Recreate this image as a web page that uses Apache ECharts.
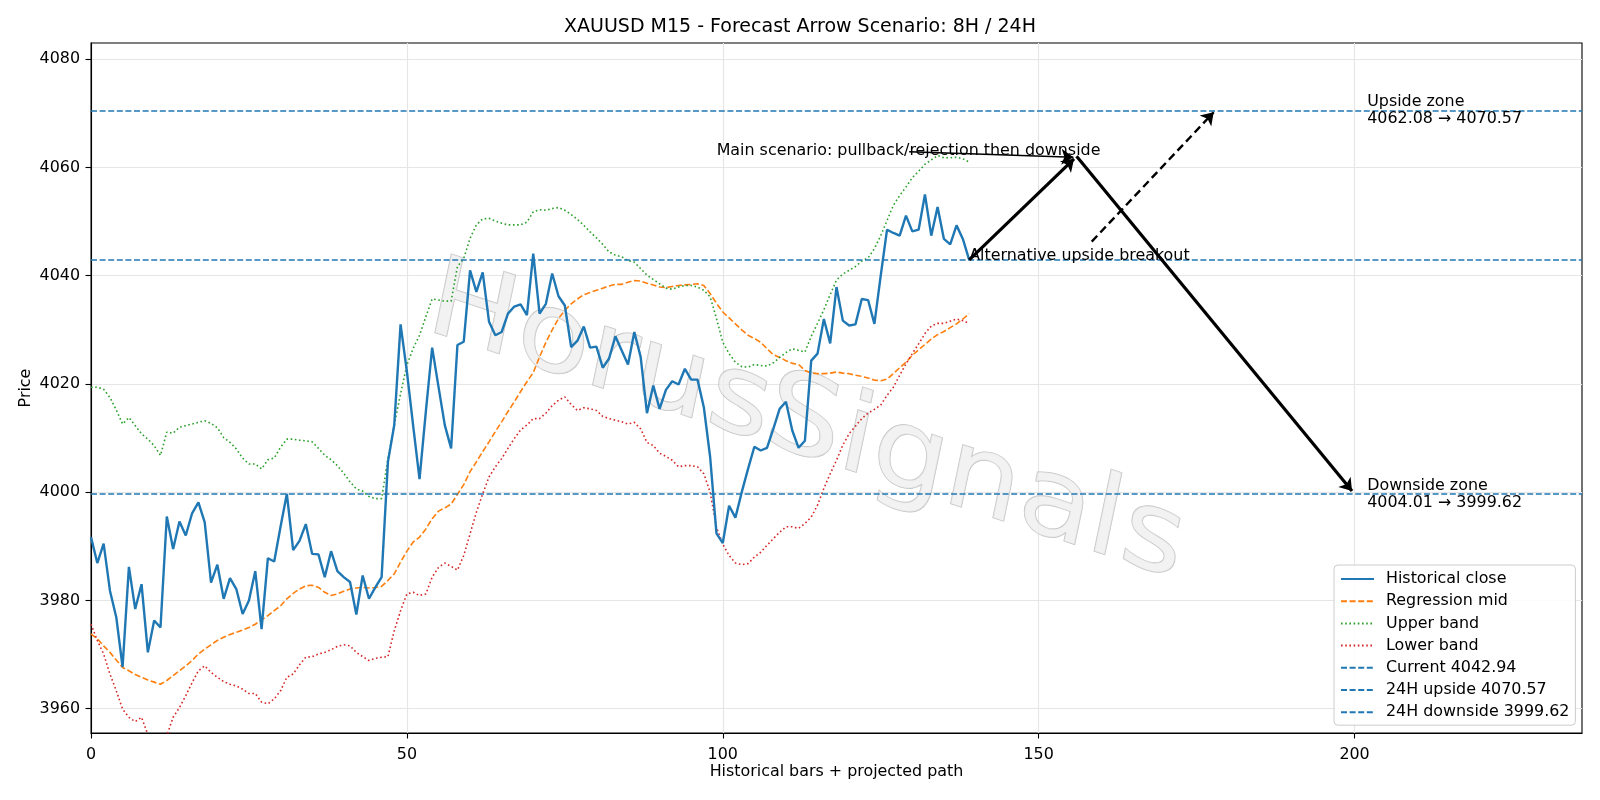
<!DOCTYPE html>
<html>
<head>
<meta charset="utf-8">
<script src="https://cdn.jsdelivr.net/npm/echarts@6/dist/echarts.min.js"></script>
<style>
  html, body { margin: 0; padding: 0; background: #fff; }
  #chart { width: 1600px; height: 800px; }
</style>
</head>
<body>
<div id="chart"></div>
<script>
// historical bars 0..139
const closeVals = [
  3991.7, 3986.9, 3990.5, 3981.8, 3976.9, 3967.7, 3986.2, 3978.4, 3983.0, 3970.4,
  3976.3, 3975.0, 3995.5, 3989.5, 3994.6, 3992.0, 3996.1, 3998.1, 3994.4, 3983.3,
  3986.6, 3980.3, 3984.1, 3982.1, 3977.5, 3980.0, 3985.4, 3974.7, 3987.8, 3987.2,
  3993.6, 3999.7, 3989.3, 3991.0, 3994.1, 3988.6, 3988.5, 3984.3, 3989.1, 3985.4,
  3984.3, 3983.4, 3977.4, 3984.6, 3980.3, 3982.4, 3984.3, 4005.6, 4012.4, 4031.0,
  4022.3, 4012.2, 4002.4, 4014.9, 4026.7, 4019.5, 4012.4, 4008.1, 4027.2, 4027.8,
  4041.0, 4037.0, 4040.6, 4031.5, 4029.0, 4029.6, 4033.0, 4034.3, 4034.7, 4032.7,
  4044.1, 4033.0, 4034.8, 4040.4, 4036.2, 4034.5, 4026.8, 4028.0, 4030.6, 4026.7,
  4026.9, 4023.0, 4024.7, 4028.8, 4026.2, 4023.6, 4029.6, 4025.0, 4014.6, 4019.7,
  4015.4, 4018.9, 4020.5, 4019.9, 4022.8, 4020.8, 4020.8, 4015.7, 4006.5, 3992.4,
  3990.6, 3997.5, 3995.3, 4000.0, 4004.3, 4008.4, 4007.7, 4008.2, 4011.7, 4015.4,
  4016.7, 4011.4, 4008.2, 4009.5, 4024.3, 4025.6, 4032.0, 4027.5, 4037.9, 4031.7,
  4030.8, 4031.0, 4035.7, 4035.5, 4031.1, 4040.0, 4048.5, 4047.9, 4047.4, 4051.1,
  4048.2, 4048.5, 4055.0, 4047.4, 4052.7, 4046.8, 4045.8, 4049.3, 4046.8, 4042.94
];
const midVals = [
  3973.8, 3972.9, 3971.6, 3970.4, 3969.0, 3967.6, 3967.0, 3966.3, 3965.8, 3965.3,
  3964.9, 3964.5, 3965.2, 3966.1, 3967.0, 3967.9, 3968.9, 3970.1, 3971.0, 3971.8,
  3972.6, 3973.2, 3973.7, 3974.1, 3974.5, 3975.0, 3975.6, 3976.4, 3977.2, 3978.1,
  3979.0, 3980.3, 3981.3, 3982.1, 3982.7, 3982.8, 3982.4, 3981.5, 3980.9, 3981.2,
  3981.7, 3982.1, 3982.3, 3982.4, 3982.3, 3982.4, 3982.6, 3983.7, 3984.9, 3987.1,
  3989.1, 3990.8, 3991.7, 3993.2, 3995.1, 3996.5, 3997.1, 3997.8, 3999.6, 4001.4,
  4003.8, 4005.6, 4007.5, 4009.3, 4011.2, 4013.0, 4014.9, 4016.7, 4018.6, 4020.4,
  4022.1, 4025.0, 4027.7, 4030.0, 4032.1, 4033.6, 4034.8, 4035.7, 4036.5, 4036.9,
  4037.3, 4037.7, 4038.1, 4038.4, 4038.4, 4038.8, 4039.1, 4039.0, 4038.6, 4038.3,
  4037.9, 4037.8, 4038.0, 4038.2, 4038.3, 4038.4, 4038.5, 4038.2, 4036.7, 4034.9,
  4033.3, 4032.2, 4031.1, 4030.0, 4029.0, 4028.4, 4027.7, 4026.5, 4025.4, 4024.9,
  4024.3, 4023.8, 4023.6, 4022.5, 4022.0, 4021.9, 4021.9, 4022.0, 4022.2, 4022.0,
  4021.9, 4021.6, 4021.4, 4021.1, 4020.7, 4020.6, 4020.9, 4021.9, 4023.0, 4024.0,
  4025.3, 4026.3, 4027.3, 4028.3, 4029.1, 4029.7, 4030.4, 4031.1, 4032.0, 4033.0
];
const upperVals = [
  4019.4, 4019.4, 4019.0, 4017.5, 4015.2, 4012.6, 4013.8, 4012.3, 4010.8, 4009.8,
  4008.6, 4006.8, 4011.1, 4010.9, 4012.0, 4012.3, 4012.6, 4012.9, 4013.2, 4012.7,
  4011.9, 4010.1, 4009.2, 4008.0, 4006.3, 4005.2, 4005.2, 4004.3, 4006.0, 4006.3,
  4008.3, 4009.8, 4009.8, 4009.6, 4009.5, 4009.3, 4008.1, 4006.8, 4006.0, 4004.9,
  4003.5, 4001.9, 4000.6, 4000.2, 3999.2, 3998.8, 3998.8, 4006.2, 4012.4, 4018.2,
  4023.5, 4026.6, 4029.0, 4032.4, 4035.7, 4035.5, 4035.3, 4035.3, 4041.7, 4043.2,
  4046.9, 4049.4, 4050.5, 4050.6, 4050.1, 4049.7, 4049.4, 4049.4, 4049.4, 4049.9,
  4051.8, 4052.2, 4052.1, 4052.4, 4052.6, 4052.1, 4051.3, 4050.4, 4049.3, 4048.1,
  4047.0, 4045.8, 4044.4, 4043.8, 4043.5, 4042.8, 4042.5, 4041.3, 4040.1, 4039.3,
  4038.5, 4037.7, 4037.5, 4037.9, 4038.2, 4038.2, 4037.9, 4037.3, 4036.1, 4032.1,
  4027.7, 4025.6, 4024.0, 4023.2, 4023.1, 4023.6, 4023.4, 4023.3, 4023.9, 4024.9,
  4025.8, 4026.5, 4026.2, 4025.9, 4028.8, 4031.2, 4033.7, 4036.5, 4039.2, 4040.3,
  4041.0, 4041.7, 4042.7, 4043.3, 4045.0, 4047.4, 4050.2, 4053.0, 4054.8, 4056.4,
  4058.1, 4059.3, 4060.6, 4061.4, 4062.2, 4061.8, 4061.8, 4061.9, 4061.6, 4061.0
];
const lowerVals = [
  3975.6, 3972.6, 3970.1, 3966.4, 3963.3, 3959.9, 3958.4, 3957.6, 3958.4, 3955.2,
  3953.5, 3953.8, 3955.0, 3958.4, 3960.2, 3962.4, 3964.8, 3967.0, 3967.9, 3966.7,
  3965.8, 3965.0, 3964.5, 3964.2, 3963.6, 3962.8, 3962.8, 3961.2, 3960.9, 3961.8,
  3963.3, 3965.8, 3966.4, 3968.1, 3969.5, 3969.6, 3970.1, 3970.4, 3970.9, 3971.5,
  3971.8, 3971.6, 3970.4, 3969.6, 3968.9, 3969.3, 3969.5, 3969.6, 3974.4, 3978.1,
  3981.2, 3981.5, 3980.9, 3981.2, 3984.3, 3986.1, 3986.9, 3986.3, 3985.6, 3988.3,
  3992.3, 3996.3, 3999.7, 4002.8, 4004.7, 4006.2, 4008.1, 4009.9, 4011.5, 4012.4,
  4013.6, 4013.6, 4014.6, 4016.0, 4017.0, 4017.6, 4016.2, 4015.1, 4015.6, 4015.4,
  4015.1, 4014.0, 4013.6, 4013.3, 4013.0, 4012.6, 4012.9, 4011.7, 4009.2, 4008.6,
  4007.2, 4006.6, 4005.9, 4004.7, 4004.9, 4004.9, 4004.7, 4003.4, 4000.0, 3993.5,
  3990.4, 3988.3, 3986.9, 3986.6, 3986.8, 3988.0, 3988.9, 3990.2, 3991.4, 3992.6,
  3993.6, 3993.6, 3993.3, 3994.2, 3995.4, 3997.6, 4000.7, 4003.4, 4005.9, 4008.7,
  4010.8, 4012.2, 4013.6, 4014.6, 4015.3, 4016.1, 4017.9, 4019.4, 4021.6, 4023.7,
  4025.6, 4027.4, 4029.3, 4030.7, 4031.2, 4031.2, 4031.6, 4032.0, 4031.7, 4031.2
];

const xTicks = [0, 50, 100, 150, 200];
const yTicks = [3960, 3980, 4000, 4020, 4040, 4060, 4080];

const currentLevel = 4042.94;
const upsideLevel = 4070.57;
const upsideFrom = 4062.08;
const downsideLevel = 3999.62;
const downsideFrom = 4004.01;

// projected path arrows, data coordinates [start, end]
const arrowMainNote = [[129.5, 4062.9], [155.5, 4061.9]];
const arrowUpLeg = [[139, currentLevel], [155.6, 4061.6]];
const arrowDownLeg = [[156, upsideFrom], [199.6, 4000.2]];
const arrowAltLeg = [[158.4, 4046.3], [177.7, 4070.2]];

const FONT = '"DejaVu Sans", sans-serif';
const BLUE = '#1f77b4';

function toXY(arr) {
  return arr.map((v, i) => [i, v]);
}

const notes = [
  { value: [202, upsideLevel], text: 'Upside zone\n' + upsideFrom.toFixed(2) + ' \u2192 ' + upsideLevel.toFixed(2), align: 'left', va: 'middle', off: [0, 0] },
  { value: [202, downsideLevel], text: 'Downside zone\n' + downsideFrom.toFixed(2) + ' \u2192 ' + downsideLevel.toFixed(2), align: 'left', va: 'middle', off: [0, 0] },
  { value: [139, currentLevel], text: 'Alternative upside breakout', align: 'left', va: 'bottom', off: [0, 4] },
  { value: [129.4, 4063.0], text: 'Main scenario: pullback/rejection then downside', align: 'center', va: 'middle', off: [0, 0] }
];

function arrowSeries(coords, width, dashed) {
  return {
    type: 'lines',
    coordinateSystem: 'cartesian2d',
    silent: true,
    z: 10,
    symbol: ['none', 'arrow'],
    symbolSize: [9, 12],
    lineStyle: { color: '#000', width: width, opacity: 1, type: dashed ? [8, 4.5] : 'solid' },
    itemStyle: { color: '#000' },
    data: [{ coords: coords }]
  };
}

function levelSeries(name, level) {
  return {
    name: name,
    type: 'line',
    symbol: 'none',
    data: [],
    lineStyle: { color: BLUE, width: 1.5, type: [6, 2.6] },
    itemStyle: { color: BLUE },
    markLine: {
      silent: true,
      symbol: 'none',
      label: { show: false },
      lineStyle: { color: BLUE, width: 1.5, type: [6, 2.6] },
      data: [{ yAxis: level }]
    }
  };
}

const chart = echarts.init(document.getElementById('chart'));
const option = {
  animation: false,
  backgroundColor: '#fff',
  textStyle: { fontFamily: FONT },
  title: {
    text: 'XAUUSD M15 - Forecast Arrow Scenario: 8H / 24H',
    left: 'center',
    top: 13,
    textStyle: { fontFamily: FONT, fontSize: 19, fontWeight: 'normal', color: '#000' }
  },
  grid: {
    left: 91, right: 18, top: 43, bottom: 67,
    show: true, borderColor: '#000', borderWidth: 1.1, backgroundColor: 'transparent'
  },
  legend: {
    orient: 'vertical',
    left: 1334,
    top: 565,
    padding: [6, 6, 5, 6],
    itemWidth: 33,
    itemHeight: 14,
    itemGap: 6.2,
    backgroundColor: 'rgba(255,255,255,0.85)',
    borderColor: '#cccccc',
    borderWidth: 1,
    borderRadius: 4,
    itemStyle: { opacity: 0 },
    textStyle: { fontFamily: FONT, fontSize: 15.9, color: '#000', padding: [0, 0, 0, 7] },
    data: ['Historical close', 'Regression mid', 'Upper band', 'Lower band',
      'Current ' + currentLevel.toFixed(2), '24H upside ' + upsideLevel.toFixed(2), '24H downside ' + downsideLevel.toFixed(2)]
  },
  graphic: [{
    type: 'text',
    x: 807,
    y: 426,
    skewY: -0.32,
    z: 1,
    silent: true,
    style: {
      text: 'HorusSignals',
      font: 'italic 115px "DejaVu Sans"',
      fill: 'rgba(238,238,238,0.75)',
      stroke: 'rgba(175,175,175,0.75)',
      lineWidth: 1.3,
      align: 'center',
      verticalAlign: 'middle',
      shadowColor: 'rgba(0,0,0,0.3)',
      shadowBlur: 2,
      shadowOffsetX: 4,
      shadowOffsetY: 4
    }
  }],
  xAxis: {
    type: 'value',
    min: 0,
    max: 236,
    name: 'Historical bars + projected path',
    nameLocation: 'middle',
    nameGap: 31,
    nameMoveOverlap: false,
    nameTextStyle: { fontFamily: FONT, fontSize: 15.9, color: '#000' },
    axisLine: { show: true, lineStyle: { color: '#000', width: 1.1 } },
    axisTick: { show: true, length: 5.5, lineStyle: { color: '#000', width: 1.1 }, customValues: xTicks },
    axisLabel: { color: '#000', fontFamily: FONT, fontSize: 15.9, margin: 14, customValues: xTicks },
    splitLine: { show: true, lineStyle: { color: '#e6e6e6', width: 1.2 } }
  },
  yAxis: {
    type: 'value',
    min: 3955.5,
    max: 4083,
    name: 'Price',
    nameLocation: 'middle',
    nameGap: 57,
    nameMoveOverlap: false,
    nameTextStyle: { fontFamily: FONT, fontSize: 15.9, color: '#000' },
    axisLine: { show: true, lineStyle: { color: '#000', width: 1.1 } },
    axisTick: { show: true, length: 5.5, lineStyle: { color: '#000', width: 1.1 }, customValues: yTicks },
    axisLabel: { color: '#000', fontFamily: FONT, fontSize: 15.9, margin: 11, customValues: yTicks, formatter: v => String(v) },
    splitLine: { show: true, lineStyle: { color: '#e6e6e6', width: 1.2 } }
  },
  series: [
    {
      name: 'Historical close', type: 'line', symbol: 'none', z: 4,
      data: toXY(closeVals),
      lineStyle: { color: BLUE, width: 2.4 }, itemStyle: { color: BLUE }
    },
    {
      name: 'Regression mid', type: 'line', symbol: 'none', z: 3,
      data: toXY(midVals),
      lineStyle: { color: '#ff7f0e', width: 1.6, type: [6, 2.6] }, itemStyle: { color: '#ff7f0e' }
    },
    {
      name: 'Upper band', type: 'line', symbol: 'none', z: 3,
      data: toXY(upperVals),
      lineStyle: { color: '#2ca02c', width: 1.6, type: [1.6, 2.6] }, itemStyle: { color: '#2ca02c' }
    },
    {
      name: 'Lower band', type: 'line', symbol: 'none', z: 3,
      data: toXY(lowerVals),
      lineStyle: { color: '#d62728', width: 1.6, type: [1.6, 2.6] }, itemStyle: { color: '#d62728' }
    },
    levelSeries('Current ' + currentLevel.toFixed(2), currentLevel),
    levelSeries('24H upside ' + upsideLevel.toFixed(2), upsideLevel),
    levelSeries('24H downside ' + downsideLevel.toFixed(2), downsideLevel),
    arrowSeries(arrowMainNote, 1.6, false),
    arrowSeries(arrowUpLeg, 3.2, false),
    arrowSeries(arrowDownLeg, 3.2, false),
    arrowSeries(arrowAltLeg, 2.4, true),
    {
      type: 'scatter',
      silent: true,
      z: 12,
      symbolSize: 2,
      itemStyle: { color: 'rgba(0,0,0,0)' },
      data: notes.map(n => ({
        value: n.value,
        label: {
          show: true,
          position: [1, 1],
          offset: n.off,
          align: n.align,
          verticalAlign: n.va,
          formatter: n.text,
          color: '#000',
          opacity: 1,
          textBorderWidth: 0,
          textBorderColor: 'transparent',
          fontFamily: FONT,
          fontSize: 15.9,
          lineHeight: 16.5
        }
      }))
    }
  ]
};
chart.setOption(option);
</script>
</body>
</html>
